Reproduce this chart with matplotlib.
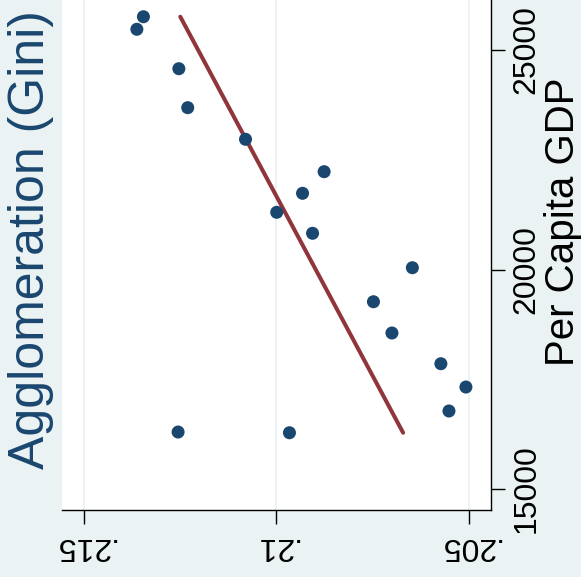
import matplotlib
matplotlib.use("Agg")
import matplotlib.pyplot as plt
import numpy as np

plt.rcParams['font.family'] = ['Liberation Sans', 'DejaVu Sans']

# Data
gini = [0.21345, 0.21362, 0.21253, 0.21230, 0.21080, 0.20876, 0.20932, 0.20999,
        0.20906, 0.20647, 0.20748, 0.20700, 0.20573, 0.20508, 0.20552, 0.21255, 0.20966]
gdp = [25758, 25472, 24574, 23686, 22966, 22228, 21736, 21303,
       20825, 20041, 19266, 18554, 17854, 17323, 16777, 16298, 16282]
gini_ticks = [0.215, 0.21, 0.205]
gini_labels = ['.215', '.21', '.205']
gdp_ticks = [15000, 20000, 25000]
gdp_labels = ['15000', '20000', '25000']

BG = '#eaf2f3'
NAVY = '#1a476f'
RED = '#90353b'

W, H = 581, 577
fig = plt.figure(figsize=(W / 100, H / 100), dpi=100, facecolor=BG)
ax = fig.add_axes([62 / W, (H - 510) / H, (491 - 62) / W, 510 / H])
ax.set_facecolor('white')

g = np.array(gini)
p = np.array(gdp)
# linear fit of gini on gdp
slope, icpt = np.polyfit(p, g, 1)
xs = np.array([p.min(), p.max()])
ax.plot(icpt + slope * xs, xs, color=RED, lw=2.9, solid_capstyle='round', zorder=2)
ax.scatter(g, p, s=88, color=NAVY, edgecolors='none', zorder=3)

ax.set_xlim(0.215563, 0.204429)
ax.set_ylim(14522, 26139)

ax.set_xticks(gini_ticks)
ax.set_xticklabels(gini_labels)
ax.set_yticks(gdp_ticks)
ax.set_yticklabels(gdp_labels)
ax.yaxis.tick_right()

for s in ['left', 'top']:
    ax.spines[s].set_visible(False)
for s in ['bottom', 'right']:
    ax.spines[s].set_color('black')
    ax.spines[s].set_linewidth(1.0)

ax.tick_params(axis='x', length=10, width=1.0, pad=5, labelsize=23, labelrotation=180)
ax.tick_params(axis='y', length=10, width=1.0, pad=5, labelsize=23, labelrotation=90)
for lab in ax.get_yticklabels():
    lab.set_verticalalignment('center')
    lab.set_horizontalalignment('left')
for lab in ax.get_xticklabels():
    lab.set_verticalalignment('top')
    lab.set_horizontalalignment('center')

ax.grid(axis='x', color=BG, lw=1.3)
ax.set_axisbelow(True)

fig.text(31 / W, 1 - 240 / H, 'Agglomeration (Gini)', rotation=90, color=NAVY,
         fontsize=36, ha='center', va='center')
fig.text(563 / W, 1 - 222 / H, 'Per Capita GDP', rotation=90, color='black',
         fontsize=29, ha='center', va='center')

fig.savefig('out.png', dpi=100, facecolor=BG)
